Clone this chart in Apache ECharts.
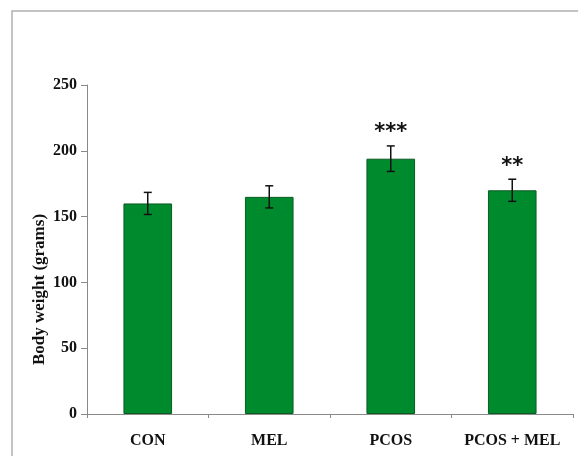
<!DOCTYPE html>
<html>
<head>
<meta charset="utf-8">
<script src="https://cdn.jsdelivr.net/npm/echarts@6/dist/echarts.min.js"></script>
<style>html,body{margin:0;padding:0;background:#fff}#c{width:578px;height:456px}</style>
</head>
<body>
<div id="c"></div>
<script>
const categories = ['CON', 'MEL', 'PCOS', 'PCOS + MEL'];
const means = [160, 165, 194, 170];
const errors = [8.4, 8.4, 9.7, 8.4];
const marks = ['', '', '***', '**'];
const yTicks = [0, 50, 100, 150, 200, 250];

const chart = echarts.init(document.getElementById('c'));
const font = '"Liberation Serif", "Times New Roman", serif';
chart.setOption({
  animation: false,
  backgroundColor: '#fff',
  graphic: [{
    type: 'rect', shape: { x: 12, y: 11, width: 600, height: 500 },
    style: { fill: 'none', stroke: '#b0b0b0', lineWidth: 1.5 }, z: -1
  }],
  grid: { left: 87, right: 5, top: 85, bottom: 42 },
  xAxis: {
    type: 'category', data: categories,
    axisLine: { lineStyle: { color: '#8a8a8a' } },
    axisTick: { show: true, interval: 0, alignWithLabel: false, length: 4, lineStyle: { color: '#8a8a8a' } },
    axisLabel: { interval: 0, hideOverlap: false, color: '#111', fontFamily: font, fontWeight: 'bold', fontSize: 16, margin: 19 }
  },
  yAxis: {
    type: 'value', min: 0, max: 250, interval: 50,
    name: 'Body weight (grams)', nameLocation: 'middle', nameGap: 39, nameMoveOverlap: false,
    nameTextStyle: { color: '#111', fontFamily: font, fontWeight: 'bold', fontSize: 17, padding: [0, 80, 0, 0] },
    axisLine: { show: true, lineStyle: { color: '#8a8a8a' } },
    axisTick: { show: true, length: 6, lineStyle: { color: '#8a8a8a' } },
    splitLine: { show: false },
    axisLabel: { color: '#111', fontFamily: font, fontWeight: 'bold', fontSize: 16, margin: 10,
      formatter: v => yTicks.includes(v) ? String(v) : '' }
  },
  series: [{
    type: 'bar', data: means, barWidth: '40%',
    itemStyle: { color: '#008a2e', borderColor: '#0a5c22', borderWidth: 1 }
  }, {
    type: 'custom',
    data: means.map((m, i) => [i, m - errors[i], m + errors[i]]),
    renderItem: function (params, api) {
      const i = api.value(0);
      const lo = api.coord([i, api.value(1)]);
      const hi = api.coord([i, api.value(2)]);
      const x = lo[0], w = 4;
      const children = [
        { type: 'line', shape: { x1: x, y1: lo[1], x2: x, y2: hi[1] }, style: { stroke: '#111', lineWidth: 1.5 } },
        { type: 'line', shape: { x1: x - w, y1: lo[1], x2: x + w, y2: lo[1] }, style: { stroke: '#111', lineWidth: 1.5 } },
        { type: 'line', shape: { x1: x - w, y1: hi[1], x2: x + w, y2: hi[1] }, style: { stroke: '#111', lineWidth: 1.5 } }
      ];
      if (marks[i]) {
        children.push({ type: 'text', x: x, y: hi[1] - 13,
          style: { text: marks[i], fill: '#111', font: 'bold 21px "DejaVu Sans", sans-serif', align: 'center', verticalAlign: 'middle' } });
      }
      return { type: 'group', children: children };
    },
    z: 10
  }]
});
</script>
</body>
</html>
